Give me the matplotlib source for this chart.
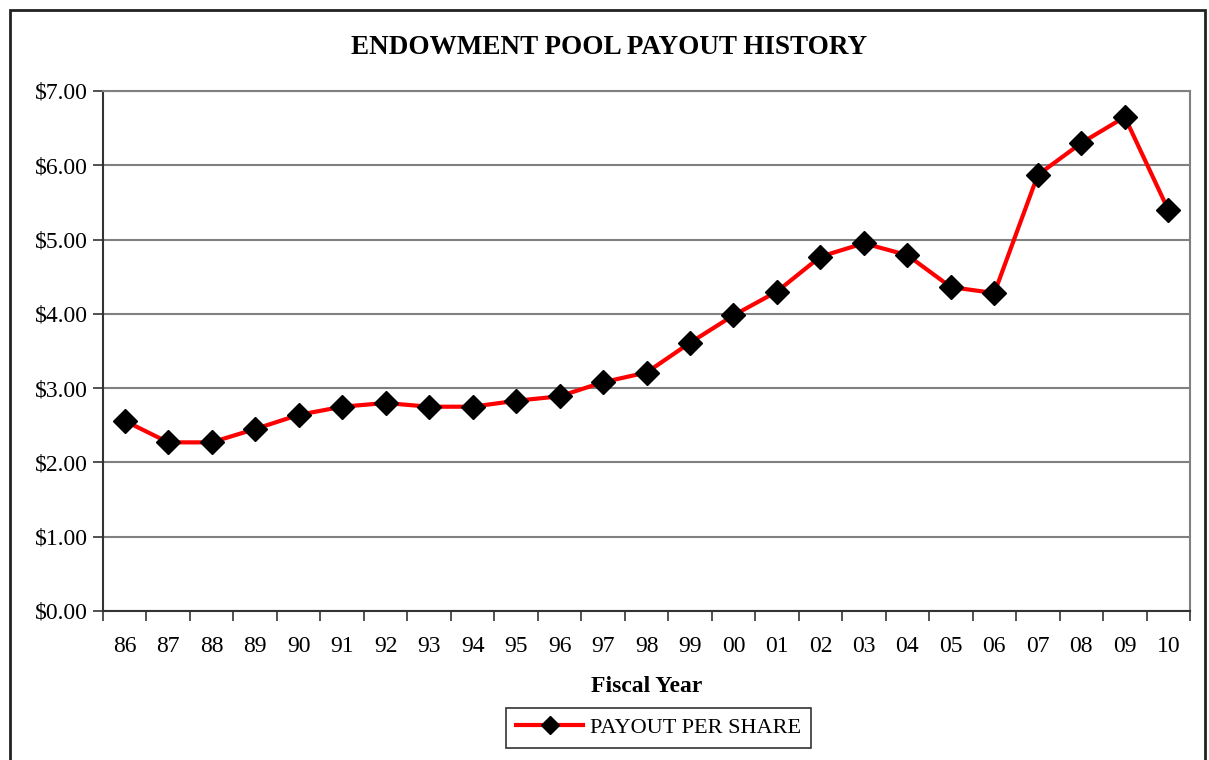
import matplotlib
matplotlib.use("Agg")
import matplotlib.pyplot as plt
from matplotlib.patches import Rectangle
from matplotlib.ticker import FixedLocator, NullFormatter, FuncFormatter

years = ["86", "87", "88", "89", "90", "91", "92", "93", "94", "95", "96", "97", "98",
         "99", "00", "01", "02", "03", "04", "05", "06", "07", "08", "09", "10"]
payout = [2.56, 2.27, 2.27, 2.45, 2.64, 2.75, 2.80, 2.75, 2.75, 2.83, 2.89, 3.08, 3.21,
          3.61, 3.98, 4.30, 4.77, 4.95, 4.79, 4.36, 4.28, 5.87, 6.30, 6.65, 5.40]
yticks = [0, 1, 2, 3, 4, 5, 6, 7]

plt.rcParams['font.family'] = ['Liberation Serif', 'DejaVu Serif']

W, H = 1209, 760
fig = plt.figure(figsize=(W / 100, H / 100), dpi=100)
ax = fig.add_axes([103 / W, 1 - 611 / H, (1190 - 103) / W, (611 - 91) / H])

x = list(range(len(years)))
ax.plot(x, payout, color='#ff0000', lw=3, marker='D', markersize=12.5,
        markerfacecolor='black', markeredgecolor='black', label='PAYOUT PER SHARE', zorder=3)

ax.set_xlim(-0.5, len(years) - 0.5)
ax.set_ylim(0, 7)
ax.set_yticks(yticks)
ax.yaxis.set_major_formatter(FuncFormatter(lambda v, p: f"${v:.2f}"))
ax.grid(axis='y', color='#808080', lw=1.5)
ax.set_axisbelow(True)

ax.set_xticks(x)
ax.set_xticklabels(years)
ax.xaxis.set_minor_locator(FixedLocator([i - 0.5 for i in range(len(years) + 1)]))
ax.xaxis.set_minor_formatter(NullFormatter())
ax.tick_params(axis='x', which='major', length=0, pad=18, labelsize=17)
ax.tick_params(axis='x', which='minor', length=7, width=1.2, color='#333333', direction='out')
ax.tick_params(axis='y', length=7, width=1.2, color='#333333', labelsize=17, pad=4)

for s in ['top', 'right']:
    ax.spines[s].set_color('#808080')
    ax.spines[s].set_linewidth(1.5)
for s in ['left', 'bottom']:
    ax.spines[s].set_color('#333333')
    ax.spines[s].set_linewidth(1.5)

ax.set_xlabel('Fiscal Year', fontsize=17, fontweight='bold', labelpad=14)

fig.text(0.5 * (352 + 866) / W, 1 - 48 / H, 'ENDOWMENT POOL PAYOUT HISTORY',
         ha='center', va='center', fontsize=19.5, fontweight='bold')

leg = ax.legend(loc='center', bbox_to_anchor=(658.5 / W, 1 - 728 / H),
                bbox_transform=fig.transFigure, frameon=True, fancybox=False,
                fontsize=16, handlelength=3.0, markerscale=0.75, borderpad=0.45,
                handletextpad=0.3, borderaxespad=0)
leg.get_frame().set_edgecolor('black')
leg.get_frame().set_linewidth(1.2)

fig.patches.append(Rectangle((10 / W, -0.05), (1205 - 10) / W, 1 - 10 / H + 0.05,
                             transform=fig.transFigure, fill=False,
                             edgecolor='#222222', lw=2))

fig.savefig('out.png', dpi=100)
